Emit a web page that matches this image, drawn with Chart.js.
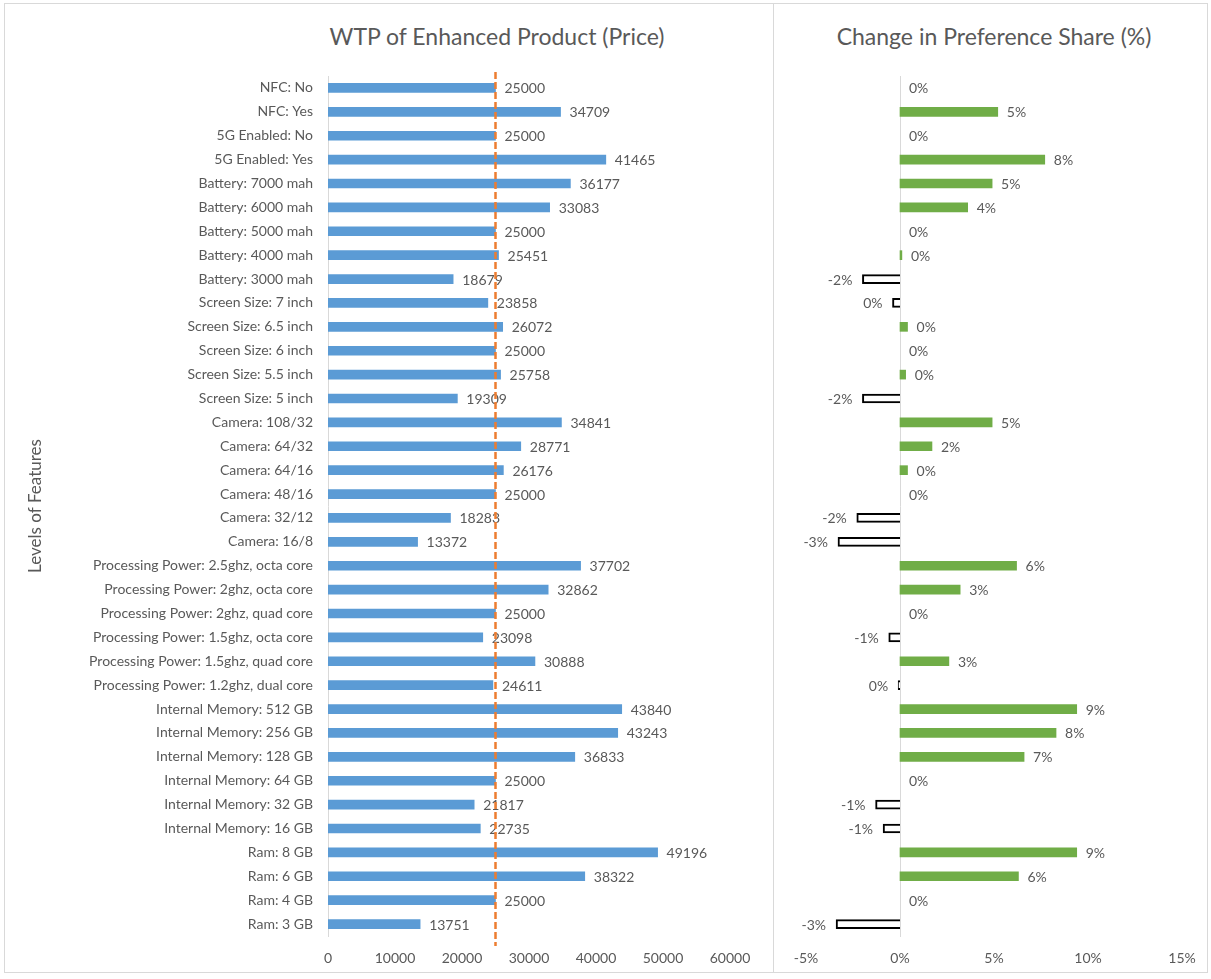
<!DOCTYPE html>
<html>
<head>
<meta charset="utf-8">
<script src="https://cdn.jsdelivr.net/npm/chart.js@4"></script>
<style>
  body { margin: 0; background: #fff; font-family: Lato, "Open Sans", sans-serif; }
  #frame { position: absolute; left: 4px; top: 3px; width: 1202px; height: 968px; border: 1px solid #d9d9d9; }
  #divider { position: absolute; left: 773px; top: 3px; width: 1px; height: 970px; background: #d9d9d9; }
  .title { position: absolute; top: 22px; font-size: 23px; color: #595959; white-space: nowrap; transform: translateX(-50%); }
  canvas { position: absolute; top: 0; }
</style>
</head>
<body>
<div id="frame"></div>
<div id="divider"></div>
<div class="title" style="left:497px">WTP of Enhanced Product (Price)</div>
<div class="title" style="left:994px">Change in Preference Share (%)</div>
<div style="position:absolute;left:0;top:0;width:773px;height:979px"><canvas id="wtpChart"></canvas></div>
<div style="position:absolute;left:773px;top:0;width:438px;height:979px"><canvas id="shareChart"></canvas></div>

<script>
/* ============================= */
/* DATA */
/* ============================= */

const featureLevels = [
  "NFC: No", "NFC: Yes", "5G Enabled: No", "5G Enabled: Yes",
  "Battery: 7000 mah", "Battery: 6000 mah", "Battery: 5000 mah", "Battery: 4000 mah", "Battery: 3000 mah",
  "Screen Size: 7 inch", "Screen Size: 6.5 inch", "Screen Size: 6 inch", "Screen Size: 5.5 inch", "Screen Size: 5 inch",
  "Camera: 108/32", "Camera: 64/32", "Camera: 64/16", "Camera: 48/16", "Camera: 32/12", "Camera: 16/8",
  "Processing Power: 2.5ghz, octa core", "Processing Power: 2ghz, octa core", "Processing Power: 2ghz, quad core",
  "Processing Power: 1.5ghz, octa core", "Processing Power: 1.5ghz, quad core", "Processing Power: 1.2ghz, dual core",
  "Internal Memory: 512 GB", "Internal Memory: 256 GB", "Internal Memory: 128 GB",
  "Internal Memory: 64 GB", "Internal Memory: 32 GB", "Internal Memory: 16 GB",
  "Ram: 8 GB", "Ram: 6 GB", "Ram: 4 GB", "Ram: 3 GB"
];

const wtpPrice = [
  25000, 34709, 25000, 41465,
  36177, 33083, 25000, 25451, 18679,
  23858, 26072, 25000, 25758, 19309,
  34841, 28771, 26176, 25000, 18283, 13372,
  37702, 32862, 25000, 23098, 30888, 24611,
  43840, 43243, 36833, 25000, 21817, 22735,
  49196, 38322, 25000, 13751
];

const shareChange = [
  0, 5.2, 0, 7.7,
  4.9, 3.6, 0, 0.1, -2.0,
  -0.4, 0.4, 0, 0.3, -2.0,
  4.9, 1.7, 0.4, 0, -2.3, -3.3,
  6.2, 3.2, 0, -0.6, 2.6, -0.1,
  9.4, 8.3, 6.6, 0, -1.3, -0.9,
  9.4, 6.3, 0, -3.4
];

const basePrice = 25000;
const wtpTicks = [0, 10000, 20000, 30000, 40000, 50000, 60000];
const shareTicks = [-5, 0, 5, 10, 15];

/* ============================= */
/* PLUGINS */
/* ============================= */

const textGrey = "#595959";
const labelFont = "14px Lato, 'Open Sans', sans-serif";

const barLabels = {
  id: "barLabels",
  afterDatasetsDraw(chart, args, opts) {
    const ctx = chart.ctx;
    const meta = chart.getDatasetMeta(0);
    const values = chart.data.datasets[0].data;
    ctx.save();
    ctx.font = labelFont;
    ctx.fillStyle = textGrey;
    ctx.textBaseline = "middle";
    meta.data.forEach((bar, i) => {
      const v = values[i];
      const txt = opts.format(v);
      if (v < 0) {
        ctx.textAlign = "right";
        ctx.fillText(txt, bar.x - 10, bar.y + 1);
      } else {
        ctx.textAlign = "left";
        ctx.fillText(txt, bar.x + 9, bar.y + 1);
      }
    });
    ctx.restore();
  },
};

const baseLine = {
  id: "baseLine",
  afterDatasetsDraw(chart) {
    const ctx = chart.ctx;
    const x = chart.scales.x.getPixelForValue(basePrice);
    const area = chart.chartArea;
    ctx.save();
    ctx.strokeStyle = "#ED7D31";
    ctx.lineWidth = 2.5;
    ctx.setLineDash([7, 3]);
    ctx.beginPath();
    ctx.moveTo(x, area.top - 4);
    ctx.lineTo(x, area.bottom + 10);
    ctx.stroke();
    ctx.restore();
  },
};

/* ============================= */
/* CHARTS */
/* ============================= */

Chart.defaults.font.family = "Lato, 'Open Sans', sans-serif";
Chart.defaults.font.size = 14;
Chart.defaults.color = textGrey;

new Chart(document.getElementById("wtpChart"), {
  type: "bar",
  data: {
    labels: featureLevels,
    datasets: [
      {
        data: wtpPrice,
        backgroundColor: "#5B9BD5",
        barThickness: 9,
      },
    ],
  },
  options: {
    indexAxis: "y",
    responsive: true,
    maintainAspectRatio: false,
    animation: false,
    layout: { padding: { left: 20, right: 43, top: 76, bottom: 3 } },
    plugins: {
      legend: { display: false },
      tooltip: { enabled: false },
      barLabels: { format: (v) => String(v) },
    },
    scales: {
      x: {
        min: 0,
        max: 60000,
        afterBuildTicks: (s) => { s.ticks = wtpTicks.map((v) => ({ value: v })); },
        grid: { display: false, drawTicks: false },
        border: { display: false },
        ticks: { padding: 14, maxRotation: 0, callback: (v) => String(v) },
        afterFit: (s) => { s.height = 40; },
      },
      y: {
        grid: { display: false, drawTicks: false },
        border: { color: "#d9d9d9" },
        ticks: { padding: 15, autoSkip: false },
        title: { display: true, text: "Levels of Features", padding: { top: 5, bottom: 0 }, font: { size: 17 } },
        afterFit: (s) => { s.width = 308; },
      },
    },
  },
  plugins: [barLabels, baseLine],
});

new Chart(document.getElementById("shareChart"), {
  type: "bar",
  data: {
    labels: featureLevels,
    datasets: [
      {
        data: shareChange,
        backgroundColor: shareChange.map((v) => (v < 0 ? "#ffffff" : v === 0 ? "rgba(0,0,0,0)" : "#70AD47")),
        borderColor: "#000000",
        borderWidth: shareChange.map((v) => (v < 0 ? 2 : 0)),
        barThickness: 9,
      },
    ],
  },
  options: {
    indexAxis: "y",
    responsive: true,
    maintainAspectRatio: false,
    animation: false,
    layout: { padding: { left: 33, right: 29, top: 76, bottom: 3 } },
    plugins: {
      legend: { display: false },
      tooltip: { enabled: false },
      barLabels: { format: (v) => (Math.round(v) || 0) + "%" },
    },
    scales: {
      x: {
        min: -5,
        max: 15,
        afterBuildTicks: (s) => { s.ticks = shareTicks.map((v) => ({ value: v })); },
        grid: { display: false, drawTicks: false },
        border: { display: false },
        ticks: { padding: 14, maxRotation: 0, callback: (v) => v + "%" },
        afterFit: (s) => { s.height = 40; },
      },
      y: {
        position: { x: 0 },
        grid: { display: false, drawTicks: false },
        border: { color: "#d9d9d9" },
        ticks: { display: false },
      },
    },
  },
  plugins: [barLabels],
});
</script>
</body>
</html>
